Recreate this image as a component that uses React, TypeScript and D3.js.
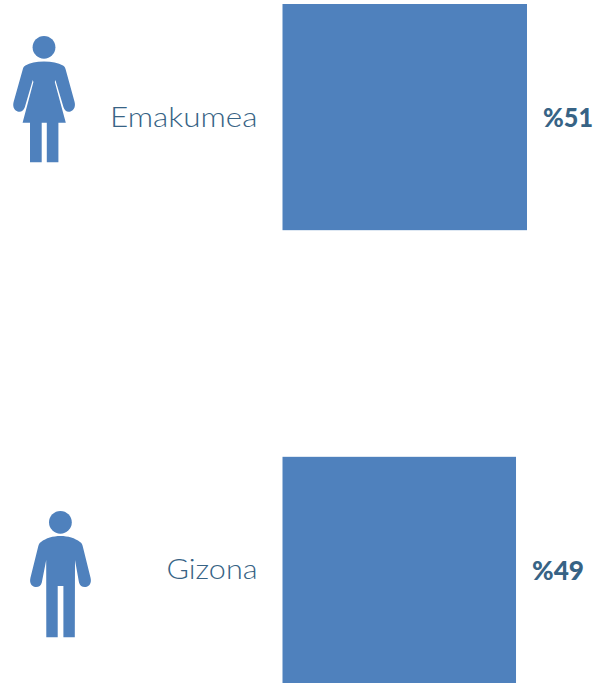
import React from "react";
import * as d3 from "d3";

const categories = ["Emakumea", "Gizona"];
const values = [51.2, 48.9];
const valueLabels = ["%51", "%49"];

const W = 599, H = 683;
const BAR = "#4F81BD", TEXT = "#376385";

const x = d3.scaleLinear().domain([0, 51.2]).range([282.5, 527]);
const y = d3.scaleBand().domain(categories).range([4, 683]).paddingInner(0.5005).paddingOuter(0);

const womanBody = "M44 61.6 C52 61.6 58 63 63 65.5 C64.6 66.4 65 67.5 65.6 69.2 L74.6 102 C75.6 106 74.5 110 70.5 111.4 C67 112.4 64.5 110.5 63.5 107.2 L55.4 80 L54.8 82 L65.8 122.7 L58.4 122.7 L58.4 162.3 L46.8 162.3 L46.8 122.7 L41.7 122.7 L41.7 162.3 L30 162.3 L30 122.7 L22.6 122.7 L33.4 82 L32.8 80 L24.8 107.2 C23.8 110.5 21 112.4 17.6 111.4 C13.6 110 12.6 106 13.6 102 L22.8 69.2 C23.3 67.5 23.8 66.4 25.4 65.5 C30 63 36 61.6 44 61.6 Z";
const manBody = "M60.5 536 C68 536 75 538 80 542 C81.6 543 82.3 544.5 82.8 546.4 L90.6 578 C91.6 582.5 90 586 86 587 C82.4 587.6 80 585.5 79 582.4 L75 560 L74.8 637.3 L63.4 637.3 L63.4 586 L57.7 586 L57.7 637.3 L46.3 637.3 L46.2 560 L41.8 582.4 C41 585.5 38.4 587.6 35 587 C31 586 29.4 582.5 30.4 578 L38.2 546.4 C38.8 544.5 39.4 543 41 542 C46 538 53 536 60.5 536 Z";
const icons = [
  { cx: 44, cy: 47.3, body: womanBody },
  { cx: 60.4, cy: 522.3, body: manBody },
];
const labelLen = [147.5, 91];
const labelDy = [9.5, 9];
const valueLen = [50, 52];
const valueGap = [16, 16];

export default function App() {
  return (
    <svg width={W} height={H} viewBox={`0 0 ${W} ${H}`}
      style={{ position: "absolute", left: 0, top: 0, background: "#fff" }}>
      {categories.map((c, i) => {
        const top = y(c)!;
        const mid = top + y.bandwidth() / 2;
        return (
          <g key={c}>
            <circle cx={icons[i].cx} cy={icons[i].cy} r={11.4} fill={BAR} />
            <path d={icons[i].body} fill={BAR} />
            <text x={257.5} y={mid + labelDy[i]} textAnchor="end" fontFamily="Lato, sans-serif"
              fontWeight={300} fontSize={28} fill={TEXT} textLength={labelLen[i]} lengthAdjust="spacingAndGlyphs">{c}</text>
            <rect x={x(0)} y={top} width={x(values[i]) - x(0)} height={y.bandwidth()} fill={BAR} />
            <text x={x(values[i]) + valueGap[i]} y={mid + 10} fontFamily="Lato, sans-serif"
              fontWeight={900} fontSize={26} fill={TEXT} textLength={valueLen[i]}
              lengthAdjust="spacingAndGlyphs">{valueLabels[i]}</text>
          </g>
        );
      })}
    </svg>
  );
}
